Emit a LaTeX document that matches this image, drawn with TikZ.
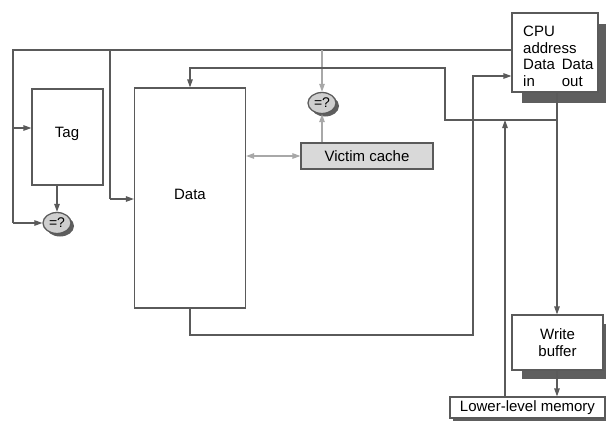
\documentclass[tikz,border=0pt]{standalone}
\usepackage{fontspec}
\setmainfont{Liberation Sans}
\usetikzlibrary{arrows.meta,shadows,shapes.geometric}

\definecolor{wirec}{HTML}{5A5A5A}
\definecolor{lightwire}{HTML}{A8A8A8}
\definecolor{shadowc}{HTML}{5E5E5E}
\definecolor{boxfill}{HTML}{D9D9D9}
\definecolor{cmpfill}{HTML}{CFCFCF}

\tikzset{
  wire/.style={draw=wirec, line width=1.2pt},
  thinwire/.style={draw=lightwire, line width=1.1pt},
  tip/.style={-{Triangle[length=8pt,width=5.5pt]}},
  bothtips/.style={{Triangle[length=8pt,width=5.5pt]}-{Triangle[length=8pt,width=5.5pt]}},
  block/.style={draw=wirec, line width=1.2pt, fill=white, inner sep=0pt,
    font=\fontsize{15}{16.5}\selectfont, align=center},
  compare/.style={ellipse, draw=wirec, line width=1.3pt, fill=cmpfill,
    minimum width=28pt, minimum height=21pt, inner sep=0pt,
    font=\fontsize{14}{14}\selectfont,
    drop shadow={shadow xshift=3pt, shadow yshift=-3pt, fill=shadowc, opacity=1}},
  label/.style={font=\fontsize{15}{16.5}\selectfont, inner sep=0pt}
}

\begin{document}
\begin{tikzpicture}[x=1pt, y=-1pt]
\clip (0,0) rectangle (606,421);
\path[use as bounding box] (0,0) rectangle (606,421);

% blocks
\node[block, minimum width=71pt, minimum height=96pt] (tag) at (67.5,137) {};
\node[label] (tagtext) at (67,134) {Tag};
\node[block, minimum width=111pt, minimum height=220pt] (data) at (190,198) {};
\node[label] (datatext) at (190,194) {Data};
\node[block, fill=boxfill, minimum width=132pt, minimum height=26pt] (victim) at (367,156) {Victim cache};

\node[block, minimum width=86pt, minimum height=79pt,
      drop shadow={shadow xshift=10pt, shadow yshift=-11pt, fill=shadowc, opacity=1}] (cpu) at (555,52.5) {};
\node[label, anchor=north west, align=left] (cputext) at (523,25)
  {\begin{tabular}{@{}l@{\hspace{7pt}}l@{}}
     \multicolumn{2}{@{}l}{CPU}\\
     \multicolumn{2}{@{}l}{address}\\
     Data & Data\\
     in & out
   \end{tabular}};

\node[block, minimum width=91pt, minimum height=55pt,
      drop shadow={shadow xshift=10pt, shadow yshift=-9pt, fill=shadowc, opacity=1}] (wb) at (557.5,342.5) {Write\\buffer};
\node[block, minimum width=155pt, minimum height=21pt,
      drop shadow={shadow xshift=3pt, shadow yshift=-3pt, fill=shadowc, opacity=1}] (mem) at (527.5,407.5) {Lower-level memory};

% comparators
\node[compare] (eq1) at (57,223) {=?};
\node[compare] (eq2) at (322,103) {=?};

% address bus from the CPU
\coordinate (a0) at (13,50);
\coordinate (a1) at (110,50);
\coordinate (a2) at (322,50);
\coordinate (ta) at (13,128);
\coordinate (da) at (110,199);
\draw[wire] (cpu.west |- a0) -- (a0) -- (a0 |- eq1);
\draw[wire, tip] (a0 |- eq1) -- (eq1.west);
\draw[wire, tip] (ta) -- (ta -| tag.west);
\draw[wire] (a1) -- (da);
\draw[wire, tip] (da) -- (da -| data.west);
\draw[thinwire, tip] (a2) -- (eq2.north);

% tag compare
\draw[wire, tip] (tag.south -| eq1) -- (eq1.north);

% victim cache
\draw[thinwire, tip] (victim.north -| eq2) -- (eq2.south);
\draw[thinwire, bothtips] (data.east |- victim) -- (victim.west);

% data out of the cache to the CPU
\coordinate (b0) at (190,335);
\coordinate (b1) at (473,335);
\coordinate (b2) at (473,76);
\draw[wire, tip] (data.south) -- (b0) -- (b1) -- (b2) -- (b2 -| cpu.west);

% CPU data out to the write buffer and back into the cache
\coordinate (c0) at (557,120);
\coordinate (c1) at (445,120);
\coordinate (c2) at (445,68);
\coordinate (c3) at (190,68);
\draw[wire, tip] (cpu.south -| c0) -- (wb.north -| c0);
\draw[wire, tip] (c0) -- (c1) -- (c2) -- (c3) -- (data.north);

% lower-level memory
\coordinate (m0) at (505,120);
\draw[wire, tip] (mem.north -| m0) -- (m0);
\draw[wire, tip] (wb.south -| c0) -- (mem.north -| c0);
\end{tikzpicture}
\end{document}
